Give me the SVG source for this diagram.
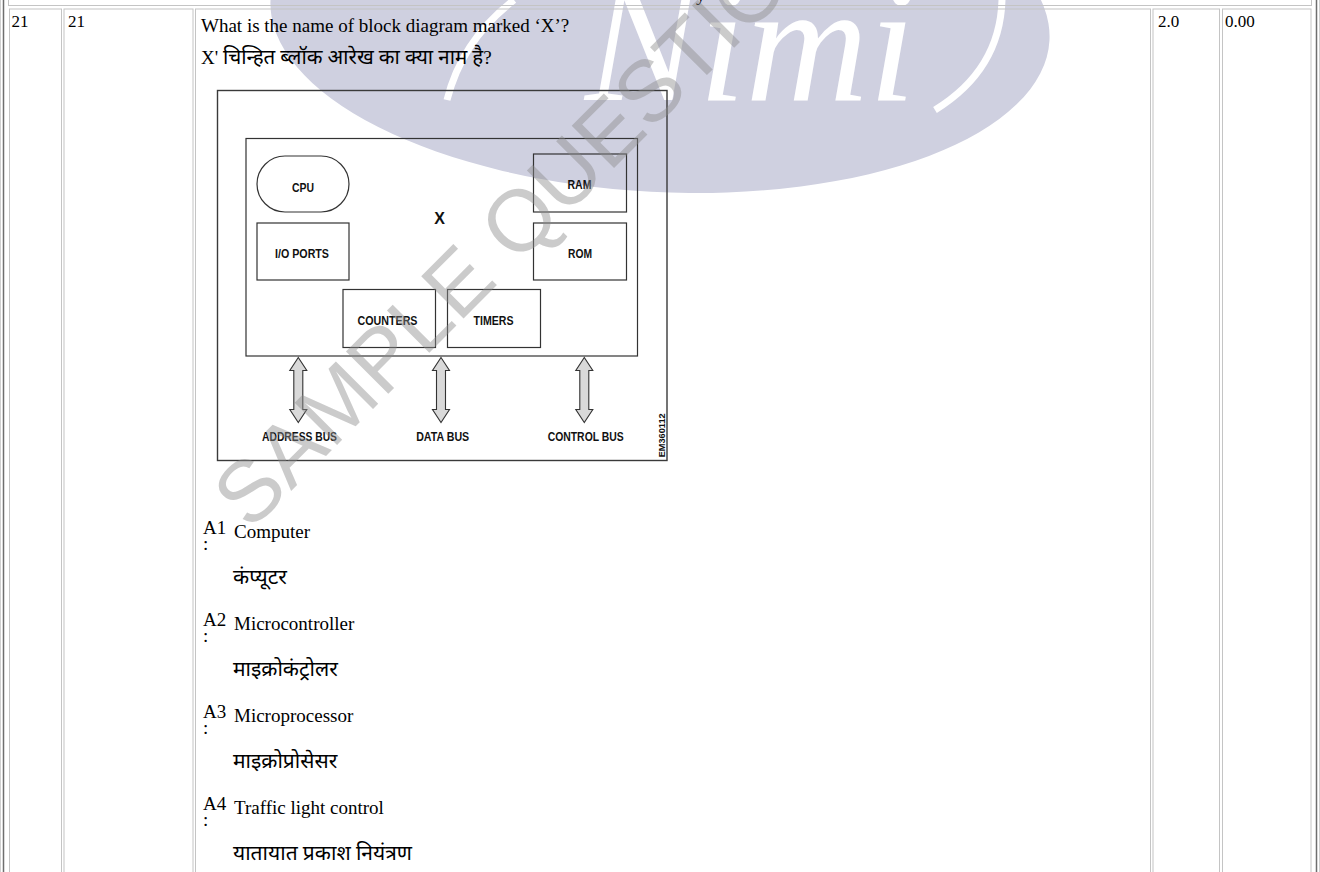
<svg xmlns="http://www.w3.org/2000/svg" width="1320" height="872" viewBox="0 0 1320 872">
<style>
.cell{fill:none;stroke:#c4c4c4;stroke-width:1}
.t{font-family:"Liberation Serif","Noto Sans Devanagari","Noto Sans",serif;font-size:19px;fill:#000}
.n{font-family:"Liberation Serif",serif;font-size:17px;fill:#000}
.hi{font-family:"Liberation Serif","Noto Sans Devanagari","Lohit Devanagari","FreeSans",serif;font-size:21px;fill:#000}
.box{fill:none;stroke:#333;stroke-width:1.2}
.lbl{font-family:"Liberation Sans",Arial,sans-serif;font-weight:bold;font-size:12px;fill:#111;text-anchor:middle}
.bus{fill:#d9d9d9;stroke:#333;stroke-width:1.1;stroke-linejoin:miter}
</style>
<defs>
<path id="busArrow" d="M0 357.5 L8.5 370.5 L4.5 370.5 L4.5 409.5 L8.5 409.5 L0 422.5 L-8.5 409.5 L-4.5 409.5 L-4.5 370.5 L-8.5 370.5 Z"/>
</defs>
<rect width="1320" height="872" fill="#fff"/>
<!-- watermark background -->
<g id="watermark-bg">
<ellipse cx="660" cy="20" rx="390" ry="172" transform="rotate(3 660 20)" fill="#cfd0e0"/>
<text x="585" y="100" font-family="Liberation Serif,serif" font-style="italic" font-size="170" fill="#fff">Nimi</text>
<path d="M447 100 Q462 40 514 0" fill="none" stroke="#fff" stroke-width="7"/>
<path d="M935 110 Q1000 70 1002 0" fill="none" stroke="#fff" stroke-width="7"/>
</g>
<!-- table -->
<g id="table">
<line x1="0.5" y1="0" x2="0.5" y2="872" stroke="#d0d0d0"/>
<line x1="3.5" y1="0" x2="3.5" y2="872" stroke="#6e6e6e" stroke-width="1.5"/>
<line x1="1316.5" y1="0" x2="1316.5" y2="872" stroke="#6e6e6e" stroke-width="1.5"/>
<line x1="1319.5" y1="0" x2="1319.5" y2="872" stroke="#d0d0d0"/>
<rect class="cell" x="8.5" y="-10" width="1303" height="15.5"/>
<rect class="cell" x="9.5" y="9" width="52" height="880"/>
<rect class="cell" x="64" y="9" width="129" height="880"/>
<rect class="cell" x="195.5" y="9" width="955" height="880"/>
<rect class="cell" x="1153" y="9" width="66.5" height="880"/>
<rect class="cell" x="1222.5" y="9" width="88.5" height="880"/>
</g>
<g id="cells-text">
<text class="t" x="696" y="1">y</text>
<text class="n" x="11.5" y="27">21</text>
<text class="n" x="68" y="27">21</text>
<text class="n" x="1158" y="27">2.0</text>
<text class="n" x="1225" y="27">0.00</text>
</g>
<g id="question">
<text class="t" x="201" y="31.5">What is the name of block diagram marked ‘X’?</text>
<text class="t" x="201" y="63.5">X' <tspan style="font-size:20.5px">चिन्हित ब्लॉक आरेख का क्या नाम है</tspan>?</text>
</g>
<!-- diagram -->
<g id="frame"><rect x="217.5" y="90.5" width="449.5" height="370" fill="none" stroke="#3a3a3a" stroke-width="1.4"/></g>
<g id="node-x"><rect x="246" y="138.5" width="391.5" height="217.5" class="box"/><text class="lbl" x="439.5" y="224" style="font-size:16px">X</text></g>
<g id="node-cpu"><rect x="257" y="156" width="92" height="56" rx="28" ry="28" class="box"/><text class="lbl" x="303" y="191.5" textLength="22" lengthAdjust="spacingAndGlyphs">CPU</text></g>
<g id="node-io"><rect x="257" y="223" width="92" height="57" class="box"/><text class="lbl" x="302" y="257.5" textLength="54" lengthAdjust="spacingAndGlyphs">I/O PORTS</text></g>
<g id="node-ram"><rect x="533.5" y="154" width="93" height="58" class="box"/><text class="lbl" x="579.5" y="189" textLength="24" lengthAdjust="spacingAndGlyphs">RAM</text></g>
<g id="node-rom"><rect x="533.5" y="223" width="93" height="57" class="box"/><text class="lbl" x="580" y="257.5" textLength="24" lengthAdjust="spacingAndGlyphs">ROM</text></g>
<g id="node-counters"><rect x="343" y="289.5" width="92.5" height="58" class="box"/><text class="lbl" x="387.5" y="325" textLength="60" lengthAdjust="spacingAndGlyphs">COUNTERS</text></g>
<g id="node-timers"><rect x="447.5" y="289.5" width="93" height="58" class="box"/><text class="lbl" x="493.5" y="325" textLength="40" lengthAdjust="spacingAndGlyphs">TIMERS</text></g>
<g id="connectors">
<use href="#busArrow" class="bus" transform="translate(298.3 0)"/>
<use href="#busArrow" class="bus" transform="translate(441 0)"/>
<use href="#busArrow" class="bus" transform="translate(584.3 0)"/>
</g>
<g id="bus-labels">
<text class="lbl" x="299.5" y="440.5" textLength="75" lengthAdjust="spacingAndGlyphs">ADDRESS BUS</text>
<text class="lbl" x="442.7" y="440.5" textLength="53" lengthAdjust="spacingAndGlyphs">DATA BUS</text>
<text class="lbl" x="585.7" y="440.5" textLength="76" lengthAdjust="spacingAndGlyphs">CONTROL BUS</text>
<text class="lbl" style="font-size:9px" transform="translate(665 435.3) rotate(-90)" textLength="44" lengthAdjust="spacingAndGlyphs">EM360112</text>
</g>
<!-- answers -->
<g id="answers">
<text class="t" x="203" y="534">A1</text><text class="t" x="203" y="550">:</text>
<text class="t" x="234" y="538">Computer</text>
<text class="hi" x="233" y="584">कंप्यूटर</text>
<text class="t" x="203" y="626">A2</text><text class="t" x="203" y="642">:</text>
<text class="t" x="234" y="630">Microcontroller</text>
<text class="hi" x="233" y="676">माइक्रोकंट्रोलर</text>
<text class="t" x="203" y="718">A3</text><text class="t" x="203" y="734">:</text>
<text class="t" x="234" y="722">Microprocessor</text>
<text class="hi" x="233" y="768">माइक्रोप्रोसेसर</text>
<text class="t" x="203" y="810">A4</text><text class="t" x="203" y="826">:</text>
<text class="t" x="234" y="814">Traffic light control</text>
<text class="hi" x="233" y="860">यातायात प्रकाश नियंत्रण</text>
</g>
<!-- watermark overlay -->
<g id="watermark-text">
<text x="250" y="532" transform="rotate(-45 250 532)" font-family="Liberation Sans,Arial,sans-serif" font-size="87" fill="#8c8c8c" fill-opacity="0.45">SAMPLE QUESTION</text>
</g>
</svg>
